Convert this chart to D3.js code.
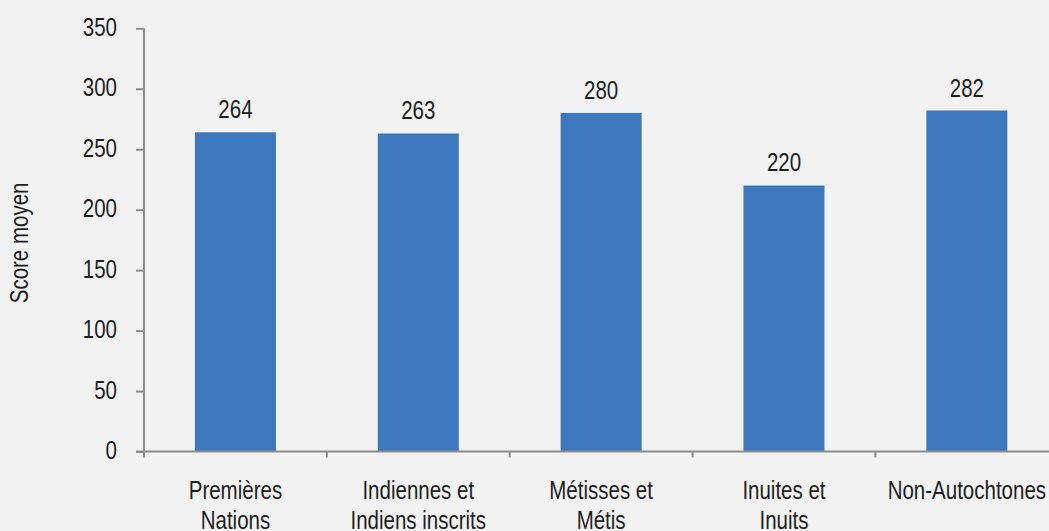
<!DOCTYPE html>
<html>
<head>
<meta charset="utf-8">
<script src="https://cdn.jsdelivr.net/npm/d3@7"></script>
<style>
html, body { margin: 0; padding: 0; background: #F2F2F2; }
svg { display: block; }
text { font-family: "Liberation Sans", Arimo, Arial, sans-serif; font-size: 25px; fill: #1e1e1e; }
</style>
</head>
<body>
<svg id="chart" width="1049" height="531"></svg>
<script>
const categories = [
  ["Premières", "Nations"],
  ["Indiennes et", "Indiens inscrits"],
  ["Métisses et", "Métis"],
  ["Inuites et", "Inuits"],
  ["Non-Autochtones"]
];
const values = [264, 263, 280, 220, 282];
const yTicks = [0, 50, 100, 150, 200, 250, 300, 350];
const yTitle = "Score moyen";

(function () {
const W = 1049, H = 531;
const mLeft = 144, mTop = 28.3, mBottom = 451.5;
const step = 182.85;
const mRight = mLeft + step * categories.length;
const SX = 0.82; // condensed text

const svg = d3.select("#chart");
svg.append("rect").attr("width", W).attr("height", H).attr("fill", "#F2F2F2");

const keys = categories.map((c, i) => i);
const x = d3.scaleBand().domain(keys).range([mLeft, mRight]).padding(0);
const y = d3.scaleLinear().domain([0, 350]).range([mBottom, mTop]);
const barW = x.bandwidth() * 0.443;

// bars
svg.append("g").selectAll("rect").data(values).join("rect")
  .attr("x", (d, i) => x(i) + (x.bandwidth() - barW) / 2)
  .attr("y", d => y(d))
  .attr("width", barW)
  .attr("height", d => y(0) - y(d))
  .attr("fill", "#3D77BD");

// value labels
svg.append("g").selectAll("text").data(values).join("text")
  .attr("transform", (d, i) => `translate(${x(i) + x.bandwidth() / 2},${y(d) - 14}) scale(${SX},1)`)
  .attr("text-anchor", "middle")
  .text(d => d);

// y axis
const yAxis = d3.axisLeft(y).tickValues(yTicks).tickSize(8).tickPadding(19);
const gy = svg.append("g").attr("transform", `translate(${mLeft},0)`).call(yAxis);
gy.attr("font-size", null).attr("font-family", null);
gy.select(".domain").attr("stroke", "#8C8C8C").attr("stroke-width", 2).attr("d", `M0,${y(350)}V${y(0)}`);
gy.selectAll(".tick line").attr("stroke", "#8C8C8C").attr("stroke-width", 2);
gy.selectAll(".tick text").attr("fill", "#1e1e1e").attr("dy", "0.28em")
  .attr("x", -27 / SX).attr("transform", `scale(${SX},1)`);

// x axis
const gx = svg.append("g").attr("transform", `translate(0,${mBottom})`);
gx.append("line").attr("x1", mLeft - 8).attr("x2", mRight).attr("y1", 0).attr("y2", 0)
  .attr("stroke", "#8C8C8C").attr("stroke-width", 2);
const bounds = keys.map(k => x(k)).concat([mRight]);
gx.selectAll("line.tk").data(bounds).join("line").attr("class", "tk")
  .attr("x1", d => d).attr("x2", d => d).attr("y1", 0).attr("y2", 6)
  .attr("stroke", "#8C8C8C").attr("stroke-width", 2);

const lbl = svg.append("g").selectAll("text").data(categories).join("text")
  .attr("text-anchor", "middle")
  .attr("transform", (d, i) => `translate(${x(i) + x.bandwidth() / 2},498.5) scale(${SX},1)`);
lbl.selectAll("tspan").data(d => d).join("tspan")
  .attr("x", 0).attr("y", (d, j) => j * 30.5).text(d => d);

// y title
svg.append("text")
  .attr("transform", `translate(28,${(mTop + mBottom) / 2 + 3}) rotate(-90) scale(${SX},1)`)
  .attr("text-anchor", "middle")
  .text(yTitle);
})();
</script>
</body>
</html>
